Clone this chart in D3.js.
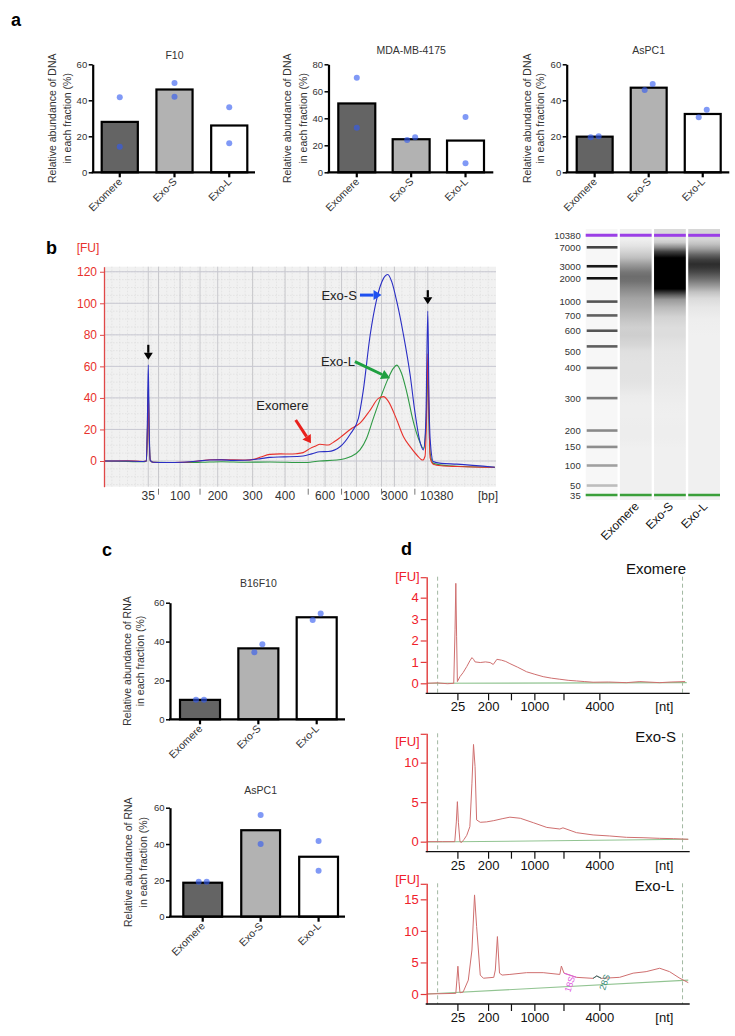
<!DOCTYPE html>
<html><head><meta charset="utf-8">
<script src="https://cdn.jsdelivr.net/npm/d3@7"></script>
<style>
body{margin:0;background:#fff}
svg{display:block}
text{font-family:"Liberation Sans",Arial,Helvetica,sans-serif}
</style>
</head><body>
<svg id="fig" width="735" height="1036"></svg>
<script>
// ---------------- DATA ----------------
const fractions = ["Exomere", "Exo-S", "Exo-L"];

// panel a: DNA abundance (%) — bar = mean, dots = replicates
const dnaF10Means = [28, 46, 26];
const dnaF10Reps = [[41.7, 14.2], [49.6, 42], [36.1, 16.1]];
const dnaMDAMeans = [51, 24.5, 23.5];
const dnaMDAReps = [[70, 33], [24, 26], [41, 6.7]];
const dnaAsPC1Means = [19.8, 47, 32.4];
const dnaAsPC1Reps = [[19.5, 20], [45.7, 49], [30.6, 34.8]];

// panel c: RNA abundance (%)
const rnaB16Means = [10, 36.5, 52.5];
const rnaB16Reps = [[10, 10], [34.5, 38.6], [51.1, 54.5]];
const rnaAsPC1Means = [18.7, 47.6, 33];
const rnaAsPC1Reps = [[19.3, 19.3], [56, 40], [41.7, 25.3]];

// panel b: DNA electropherogram, x = migration time (s), y = FU
const bpLadder = [35, 50, 100, 150, 200, 300, 400, 500, 600, 700, 1000, 2000, 3000, 7000, 10380];
const bpLadderTime = [41.3, 43.9, 49.4, 54.5, 59.0, 67.9, 76.2, 82.1, 86.4, 90.6, 94.4, 100.8, 104.1, 109.3, 112.6];
const bpAxisLabels = [35, 100, 200, 300, 400, 600, 1000, 3000, 10380];
const fuTicksB = [0, 20, 40, 60, 80, 100, 120];

const dnaExomere = [[30,0],[36,0.2],[40,-0.3],[40.8,0],[41.1,20],[41.3,44],[41.5,18],[41.8,0.5],[42.5,-0.8],[46,-1],[50,-0.8],[54,0],[57,0.8],[60,0.9],[63,0.7],[66,0.6],[68.5,1.2],[70,2.5],[72.3,4.2],[75,4.5],[77.4,4.4],[79,4.6],[80.8,5.3],[82.6,8],[84,9.5],[85.1,10.6],[87.2,10.1],[88.3,11.5],[89.4,13.3],[90.8,16],[92.8,20],[95.3,24],[97.9,32.3],[100,39.7],[101.3,40.8],[102.5,38],[104.7,26],[106.4,15.4],[108.1,9.1],[109.8,3.8],[111.3,0.6],[111.9,3],[112.3,30],[112.6,68],[112.9,30],[113.2,2],[114,-2],[116,-3],[120,-3.5],[129.7,-4]];
const dnaExoS = [[30,0],[36,0],[40,-0.3],[40.8,0],[41.1,30],[41.3,61],[41.5,25],[41.8,0.5],[42.5,-0.8],[46,-1],[50,-0.8],[54,0],[57,0.6],[60,0.7],[63,0.4],[66,0.5],[70,1.5],[72.3,2.3],[76,2.6],[80.8,3.2],[83,4.5],[85.1,5.9],[87.2,6],[90.2,9],[92.8,17],[94.9,27],[96.1,44],[97.9,79.9],[99.6,103],[101.3,115.8],[102.4,118.3],[103.4,113.7],[104.7,101],[106.4,79.9],[108.1,54.5],[109.3,31.3],[110.6,12.3],[111.5,7],[112.1,25],[112.6,95],[112.9,40],[113.2,14],[114,-0.4],[116,-1.5],[120,-2],[129.7,-4]];
const dnaExoL = [[30,0],[36,-0.3],[40,-0.5],[40.8,0],[41.1,22],[41.3,47],[41.5,20],[41.8,0.2],[42.5,-0.8],[50,-1],[55,-0.8],[60,-0.5],[66,-0.8],[72.3,-0.6],[80.8,-1],[85.1,0],[89.4,0.6],[92.8,2.7],[95.3,7],[97.0,14.4],[98.7,27],[100.8,41.8],[102.5,52.4],[103.8,58.7],[104.7,60.8],[105.9,55.6],[107.2,44],[108.9,25],[110.2,14.4],[111.5,8],[112.1,20],[112.6,54],[112.9,25],[113.2,5],[114,-1.5],[118,-3],[129.7,-4]];

// panel d: RNA electropherograms, x = migration time (s), y = FU
const ntLadder = [25, 200, 500, 1000, 2000, 4000];
const ntLadderTime = [23.0, 28.9, 33.3, 37.8, 43.4, 50.3];
const ntAxisLabels = [25, 200, 1000, 4000];
const rnaExomere = [[17,0],[19,0.02],[21,-0.02],[22.2,0],[22.45,2.5],[22.6,4.67],[22.75,2.2],[22.9,0.08],[23.4,0.31],[24.0,0.5],[24.7,0.78],[25.3,1.05],[25.7,1.2],[26.0,1.12],[26.3,1.0],[27.3,0.97],[28.3,1.0],[29.2,0.97],[29.8,0.88],[30.5,1.12],[31.4,1.08],[32.2,1.02],[33.0,0.92],[34.5,0.75],[36.2,0.54],[37.8,0.42],[39.4,0.31],[41,0.24],[42.6,0.19],[44.2,0.14],[45.8,0.11],[47.4,0.08],[49.0,0.05],[52,0.06],[55.4,0.03],[58,0.08],[61.8,0.03],[64,0.06],[66.7,0.08]];
const rnaExoS = [[17,0],[20,0],[22.4,0],[22.7,2.5],[22.9,5.06],[23.1,2.4],[23.4,0],[23.7,-0.1],[24.2,0.3],[24.7,0.8],[25.3,1.9],[25.7,7.4],[26.0,12.3],[26.3,9.5],[26.6,2.75],[27.3,2.45],[28.5,2.5],[29.9,2.66],[31.5,2.9],[33.0,3.1],[35.0,2.96],[37.5,2.4],[40.1,1.8],[42.6,1.6],[43.2,1.75],[45.8,1.14],[49.0,0.85],[52.2,0.72],[55.4,0.55],[58.6,0.5],[61.8,0.42],[64.5,0.38],[67.3,0.3]];
const rnaExoL = [[17,0],[22.6,0.1],[22.8,2.2],[23.0,4.4],[23.2,2.0],[23.4,0.2],[24.0,0.3],[25.0,2.2],[25.7,6.97],[26.2,15.7],[26.6,10.7],[27.3,3.0],[27.9,2.5],[29.9,2.64],[30.2,3.8],[30.6,9.1],[31.0,3.3],[31.5,3.0],[33.0,3.1],[36.2,3.38],[39.4,3.38],[42.6,3.1],[42.9,4.43],[43.4,3.3],[45.8,2.64],[49.0,2.48],[49.7,2.86],[50.6,2.48],[54.1,2.64],[56.7,3.3],[59.2,3.54],[61.8,4.08],[63.7,3.54],[65.7,2.48],[67.3,1.8]];
const rnaBaseExomere = [[17,0],[67,0.03]];
const rnaBaseExoS = [[17,-0.05],[67.3,0.3]];
const rnaBaseExoL = [[17,0],[67.3,2.2]];

// ---------------- DRAWING ----------------
const svg = d3.select("#fig");
const FONT = '"Liberation Sans",Arial,Helvetica,sans-serif';

function panelLetter(t, x, y) {
  svg.append("text").attr("x", x).attr("y", y).attr("font-size", 18).attr("font-weight", "bold").text(t);
}
panelLetter("a", 11, 26);
panelLetter("b", 46, 254);
panelLetter("c", 102, 556);
panelLetter("d", 401, 555);

// ---- bar charts ----
const barFill = ["#646464", "#b2b2b2", "#ffffff"];
function barChart(c) {
  const g = svg.append("g");
  const y = d3.scaleLinear().domain([0, c.yMax]).range([c.y0, c.yTop]);
  const x = d3.scaleBand().domain(fractions).range(c.barRange).paddingInner(c.pad);
  g.selectAll("rect.bar").data(c.means).join("rect").attr("class", "bar")
    .attr("x", (d, i) => x(fractions[i])).attr("y", d => y(d))
    .attr("width", x.bandwidth()).attr("height", d => y(0) - y(d))
    .attr("fill", (d, i) => barFill[i]).attr("stroke", "#000").attr("stroke-width", 2.2);
  // y axis
  const ya = g.append("g").attr("transform", `translate(${c.axisX},0)`)
    .call(d3.axisLeft(y).tickValues(c.ticks).tickSize(4).tickSizeOuter(0).tickPadding(1.5));
  ya.select(".domain").attr("stroke", "#000").attr("stroke-width", 2.2);
  ya.selectAll(".tick line").attr("stroke", "#000").attr("stroke-width", 1.5);
  ya.selectAll(".tick text").attr("font-family", FONT).attr("font-size", 9.5).attr("fill", "#333");
  // x axis
  g.append("line").attr("x1", c.axisX - 1).attr("x2", c.xEnd).attr("y1", y(0)).attr("y2", y(0))
    .attr("stroke", "#000").attr("stroke-width", 2.2);
  const xa = g.append("g").attr("transform", `translate(0,${y(0)})`)
    .call(d3.axisBottom(x).tickSize(5).tickSizeOuter(0).tickFormat(""));
  xa.select(".domain").remove();
  xa.selectAll(".tick line").attr("stroke", "#000").attr("stroke-width", 2.2);
  g.selectAll("text.xl").data(fractions).join("text").attr("class", "xl")
    .attr("transform", d => `translate(${x(d) + x.bandwidth() / 2 + 3},${y(0) + 10}) rotate(-45)`)
    .attr("text-anchor", "end").attr("font-size", 10.5).attr("fill", "#333").text(d => d);
  // dots (side by side when the two replicates nearly coincide)
  const pts = [];
  c.reps.forEach((r, i) => {
    const cx = x(fractions[i]) + x.bandwidth() / 2;
    const close = Math.abs(y(r[0]) - y(r[1])) < 9;
    const order = r[0] <= r[1] ? [0, 1] : [1, 0];
    r.forEach((v, j) => {
      const dx = close ? (order.indexOf(j) === 0 ? -4 : 4) : 0;
      pts.push({ x: cx + dx, v });
    });
  });
  g.selectAll("circle.dot").data(pts).join("circle").attr("class", "dot")
    .attr("cx", d => d.x).attr("cy", d => y(d.v)).attr("r", 3)
    .attr("fill", "rgb(50,90,240)").attr("fill-opacity", 0.62);
  // title
  g.append("text").attr("x", x(fractions[1]) + x.bandwidth() / 2).attr("y", c.titleY)
    .attr("text-anchor", "middle").attr("font-size", 10.5).attr("fill", "#333").text(c.title);
  // y label
  const cy = (c.y0 + c.yTop) / 2;
  [`Relative abundance of ${c.lab}`, "in each fraction (%)"].forEach((t, k) => {
    g.append("text").attr("transform", `translate(${c.axisX + c.labOff[k]},${cy}) rotate(-90)`)
      .attr("text-anchor", "middle").attr("font-size", 10.5).attr("fill", "#333").text(t);
  });
}

barChart({ title: "F10", means: dnaF10Means, reps: dnaF10Reps, yMax: 60, ticks: [0, 20, 40, 60], axisX: 92.7, xEnd: 255, y0: 172.3, yTop: 64.3, barRange: [101.7, 247.3], pad: 0.34, titleY: 59, lab: "DNA", labOff: [-37, -22] });
barChart({ title: "MDA-MB-4175", means: dnaMDAMeans, reps: dnaMDAReps, yMax: 80, ticks: [0, 20, 40, 60, 80], axisX: 328.5, xEnd: 493.3, y0: 172.3, yTop: 64.3, barRange: [338.3, 484], pad: 0.32, titleY: 54, lab: "DNA", labOff: [-38, -22] });
barChart({ title: "AsPC1", means: dnaAsPC1Means, reps: dnaAsPC1Reps, yMax: 60, ticks: [0, 20, 40, 60], axisX: 566.7, xEnd: 729.3, y0: 172.3, yTop: 64.3, barRange: [576.7, 720.7], pad: 0.335, titleY: 54, lab: "DNA", labOff: [-36, -23] });
barChart({ title: "B16F10", means: rnaB16Means, reps: rnaB16Reps, yMax: 60, ticks: [0, 20, 40, 60], axisX: 170, xEnd: 345, y0: 719.3, yTop: 602.7, barRange: [180, 336.7], pad: 0.314, titleY: 587, lab: "RNA", labOff: [-39.5, -26] });
barChart({ title: "AsPC1", means: rnaAsPC1Means, reps: rnaAsPC1Reps, yMax: 60, ticks: [0, 20, 40, 60], axisX: 170, xEnd: 345, y0: 916.7, yTop: 807.7, barRange: [183.3, 338], pad: 0.33, titleY: 794, lab: "RNA", labOff: [-38, -23] });

// ---- panel b electropherogram ----
const bL = 104, bR = 496, bT = 266.7, bB = 486.7;
const xB = d3.scaleLinear().domain([30, 130]).range([bL, bR]);
const yB = d3.scaleLinear().domain([-16.3, 123.2]).range([bB, bT]);
const gb = svg.append("g");
gb.append("rect").attr("x", bL).attr("y", bT).attr("width", bR - bL).attr("height", bB - bT).attr("fill", "#f1f1f1");
// minor grid
gb.selectAll("line.vm").data(d3.range(32, 130, 2)).join("line").attr("class", "vm")
  .attr("x1", d => xB(d)).attr("x2", d => xB(d)).attr("y1", bT).attr("y2", bB)
  .attr("stroke", "#dcdcdc").attr("stroke-width", 0.6).attr("stroke-dasharray", "1.5,1.5");
gb.selectAll("line.hm").data(d3.range(-15, 124, 5)).join("line").attr("class", "hm")
  .attr("x1", bL).attr("x2", bR).attr("y1", d => yB(d)).attr("y2", d => yB(d))
  .attr("stroke", "#dadada").attr("stroke-width", 0.6).attr("stroke-dasharray", "1.5,1.5");
// major grid
gb.selectAll("line.vM").data(bpLadderTime).join("line").attr("class", "vM")
  .attr("x1", d => xB(d)).attr("x2", d => xB(d)).attr("y1", bT).attr("y2", bB)
  .attr("stroke", "#c4c4c8").attr("stroke-width", 0.9);
gb.selectAll("line.hM").data(fuTicksB).join("line").attr("class", "hM")
  .attr("x1", bL).attr("x2", bR).attr("y1", d => yB(d)).attr("y2", d => yB(d))
  .attr("stroke", "#c8c8d2").attr("stroke-width", 1);
// curves
const lineB = d3.line().x(d => xB(d[0])).y(d => yB(d[1])).curve(d3.curveMonotoneX);
[[dnaExoL, "#2f9a45"], [dnaExomere, "#e8322c"], [dnaExoS, "#2a2ec4"]].forEach(([d, col]) => {
  gb.append("path").attr("d", lineB(d)).attr("fill", "none").attr("stroke", col).attr("stroke-width", 1.1);
});
// y axis
const yaB = gb.append("g").attr("transform", `translate(${bL},0)`)
  .call(d3.axisLeft(yB).tickValues(fuTicksB).tickSize(4).tickSizeOuter(0).tickPadding(3));
yaB.select(".domain").attr("stroke", "#e04848").attr("stroke-width", 1.3);
yaB.selectAll(".tick line").attr("stroke", "#e04848");
yaB.selectAll(".tick text").attr("font-family", FONT).attr("font-size", 12).attr("fill", "#e8322c");
gb.append("text").attr("x", 88).attr("y", 252).attr("text-anchor", "middle").attr("font-size", 12).attr("fill", "#e8322c").text("[FU]");
// x labels
gb.selectAll("text.bx").data(bpAxisLabels).join("text").attr("class", "bx")
  .attr("x", d => xB(bpLadderTime[bpLadder.indexOf(d)]) + (d === 10380 ? 9 : 0)).attr("y", 500)
  .attr("text-anchor", "middle").attr("font-size", 12).attr("fill", "#333").text(d => d);
gb.selectAll("line.bt").data(bpLadder.filter(d => !bpAxisLabels.includes(d))).join("line").attr("class", "bt")
  .attr("x1", d => xB(bpLadderTime[bpLadder.indexOf(d)])).attr("x2", d => xB(bpLadderTime[bpLadder.indexOf(d)]))
  .attr("y1", bB + 2).attr("y2", bB + 8).attr("stroke", "#555").attr("stroke-width", 0.8);
gb.append("text").attr("x", 488).attr("y", 500).attr("text-anchor", "middle").attr("font-size", 12).attr("fill", "#333").text("[bp]");

function arrow(g, x1, y1, x2, y2, col, w, hl, hw) {
  const a = Math.atan2(y2 - y1, x2 - x1);
  const bx = x2 - hl * Math.cos(a), by = y2 - hl * Math.sin(a);
  g.append("line").attr("x1", x1).attr("y1", y1).attr("x2", bx).attr("y2", by).attr("stroke", col).attr("stroke-width", w);
  const px = -Math.sin(a) * hw, py = Math.cos(a) * hw;
  g.append("path").attr("d", `M${x2},${y2}L${bx + px},${by + py}L${bx - px},${by - py}Z`).attr("fill", col);
}
// black arrows above the marker peaks
arrow(gb, xB(41.3), yB(61) - 20, xB(41.3), yB(61) - 5, "#000", 2.2, 7, 4.5);
arrow(gb, xB(112.6), yB(95) - 21, xB(112.6), yB(95) - 7, "#000", 2.2, 7, 4.5);
// sample arrows
arrow(gb, xB(95.3), yB(105.2), xB(100.8), yB(105.2), "#1e50f0", 3, 8, 5);
gb.append("text").attr("x", xB(94.5)).attr("y", yB(105.2) + 4.5).attr("text-anchor", "end").attr("font-size", 13).attr("fill", "#222").text("Exo-S");
arrow(gb, xB(94.0), yB(63), xB(103.0), yB(52.4), "#1fa040", 3, 9, 5);
gb.append("text").attr("x", xB(94.0)).attr("y", yB(63) + 4.5).attr("text-anchor", "end").attr("font-size", 13).attr("fill", "#222").text("Exo-L");
arrow(gb, xB(78.9), yB(26), xB(82.8), yB(11.2), "#e8201c", 3, 8, 5);
gb.append("text").attr("x", xB(75.5)).attr("y", yB(32.5)).attr("text-anchor", "middle").attr("font-size", 13).attr("fill", "#222").text("Exomere");

// ---- gel image ----
const gelY = d3.scaleLinear().domain([41.3, 112.6]).range([495, 235.3]);
const gelLanes = ["ladder", ...fractions];
const gelX = d3.scaleBand().domain(gelLanes).range([585.7, 720]).paddingInner(0.07);
const gg = svg.append("g");
const defs = svg.append("defs");
const laneTop = 229, laneBot = 500;
const grayOf = v => { const g = Math.round(240 - 240 * Math.min(1, Math.max(0, v) / 75)); return `rgb(${g},${g},${g})`; };
[dnaExomere, dnaExoS, dnaExoL].forEach((data, i) => {
  const grad = defs.append("linearGradient").attr("id", "lane" + i).attr("x1", 0).attr("y1", 0).attr("x2", 0).attr("y2", 1);
  const pts = data.filter(d => d[0] > 42 && d[0] < 111.6).sort((a, b) => b[0] - a[0]);
  grad.append("stop").attr("offset", 0).attr("stop-color", grayOf(pts[0][1]));
  pts.forEach(d => grad.append("stop").attr("offset", (gelY(d[0]) - laneTop) / (laneBot - laneTop)).attr("stop-color", grayOf(d[1])));
  grad.append("stop").attr("offset", 1).attr("stop-color", grayOf(0));
});
gg.append("rect").attr("x", gelX("ladder")).attr("y", laneTop).attr("width", gelX.bandwidth()).attr("height", laneBot - laneTop).attr("fill", "#f7f7f7");
fractions.forEach((f, i) => {
  gg.append("rect").attr("x", gelX(f)).attr("y", laneTop).attr("width", gelX.bandwidth()).attr("height", laneBot - laneTop).attr("fill", `url(#lane${i})`);
});
const ladderGray = { 50: "#bdbdbd", 100: "#a0a0a0", 150: "#8e8e8e", 200: "#8a8a8a", 300: "#7a7a7a", 400: "#6a6a6a", 500: "#5e5e5e", 600: "#555", 700: "#606060", 1000: "#555", 2000: "#111", 3000: "#1a1a1a", 7000: "#444" };
gg.selectAll("line.lb").data(bpLadder.filter(d => d !== 35 && d !== 10380)).join("line").attr("class", "lb")
  .attr("x1", gelX("ladder") + 1).attr("x2", gelX("ladder") + gelX.bandwidth())
  .attr("y1", d => gelY(bpLadderTime[bpLadder.indexOf(d)])).attr("y2", d => gelY(bpLadderTime[bpLadder.indexOf(d)]))
  .attr("stroke", d => ladderGray[d]).attr("stroke-width", 2.6);
gelLanes.forEach(l => {
  gg.append("line").attr("x1", gelX(l)).attr("x2", gelX(l) + gelX.bandwidth()).attr("y1", gelY(112.6)).attr("y2", gelY(112.6)).attr("stroke", "#9b3fe6").attr("stroke-width", 3);
  gg.append("line").attr("x1", gelX(l)).attr("x2", gelX(l) + gelX.bandwidth()).attr("y1", gelY(41.3)).attr("y2", gelY(41.3)).attr("stroke", "#3a9f3a").attr("stroke-width", 2.5);
});
gg.selectAll("text.ll").data(bpLadder).join("text").attr("class", "ll")
  .attr("x", 580.7).attr("y", d => gelY(bpLadderTime[bpLadder.indexOf(d)]) + 3.5 + (d === 500 ? 5 : 0))
  .attr("text-anchor", "end").attr("font-size", 9.5).attr("fill", "#333").text(d => d);
gg.selectAll("text.gl").data(fractions).join("text").attr("class", "gl")
  .attr("transform", d => `translate(${gelX(d) + gelX.bandwidth() / 2 + 4},${laneBot + 7}) rotate(-45)`)
  .attr("text-anchor", "end").attr("font-size", 12).attr("fill", "#111").text(d => d);

// ---- panel d ----
const xD = d3.scaleLinear().domain([17, 67]).range([426.7, 686.7]);
function rnaPanel(p) {
  const g = svg.append("g");
  const y = d3.scaleLinear().domain(p.dom).range([p.bot, p.top]);
  // dashed boundaries
  [19.1, 66.2].forEach(t => g.append("line").attr("x1", xD(t)).attr("x2", xD(t)).attr("y1", p.top).attr("y2", p.bot)
    .attr("stroke", "#a2b8a2").attr("stroke-width", 1).attr("stroke-dasharray", "4,3"));
  const line = d3.line().x(d => xD(d[0])).y(d => y(d[1]));
  g.append("path").attr("d", line(p.base)).attr("fill", "none").attr("stroke", "#92c492").attr("stroke-width", 1.1);
  g.append("path").attr("d", line(p.curve)).attr("fill", "none").attr("stroke", "#cf6f6f").attr("stroke-width", 1);
  if (p.ann) {
    g.append("path").attr("d", line(p.curve.filter(d => d[0] >= 43.4 && d[0] <= 45.8))).attr("fill", "none").attr("stroke", "#e060e0").attr("stroke-width", 1);
    g.append("path").attr("d", line(p.curve.filter(d => d[0] >= 49.0 && d[0] <= 50.6))).attr("fill", "none").attr("stroke", "#2f6f6a").attr("stroke-width", 1);
    g.append("text").attr("transform", `translate(${xD(44.6)},${y(0.2)}) rotate(-72)`).attr("font-size", 9).attr("fill", "#e060e0").text("18S");
    g.append("text").attr("transform", `translate(${xD(51.3)},${y(0.5)}) rotate(-72)`).attr("font-size", 9).attr("fill", "#3a8a7a").text("28S");
  }
  // y axis
  const ya = g.append("g").attr("transform", `translate(${xD.range()[0]},0)`)
    .call(d3.axisLeft(y).tickValues(p.ticks).tickFormat(d3.format("d")).tickSize(6).tickSizeOuter(0).tickPadding(2));
  ya.select(".domain").attr("stroke", "#e23a3a").attr("stroke-width", 1.4);
  ya.selectAll(".tick line").attr("stroke", "#e23a3a").attr("stroke-width", 1.2);
  ya.selectAll(".tick text").attr("font-family", FONT).attr("font-size", 13).attr("fill", "#f0202a");
  g.append("line").attr("x1", xD.range()[0] - 6).attr("x2", xD.range()[0]).attr("y1", p.top + 1).attr("y2", p.top + 1).attr("stroke", "#e23a3a").attr("stroke-width", 1.2);
  g.append("text").attr("x", xD.range()[0] - 7).attr("y", p.top + p.fuDy).attr("text-anchor", "end").attr("font-size", 13).attr("fill", "#f0202a").text("[FU]");
  // x axis
  g.append("line").attr("x1", xD.range()[0] - 1).attr("x2", xD.range()[1] + 3).attr("y1", p.bot).attr("y2", p.bot).attr("stroke", "#111").attr("stroke-width", 1.3);
  g.selectAll("line.xt").data(ntLadderTime).join("line").attr("class", "xt")
    .attr("x1", d => xD(d)).attr("x2", d => xD(d)).attr("y1", p.bot).attr("y2", p.bot + 7).attr("stroke", "#111").attr("stroke-width", 1.2);
  g.selectAll("text.xl").data(ntAxisLabels).join("text").attr("class", "xl")
    .attr("x", d => xD(ntLadderTime[ntLadder.indexOf(d)])).attr("y", p.bot + 18)
    .attr("text-anchor", "middle").attr("font-size", 13).attr("fill", "#111").text(d => d);
  g.append("text").attr("x", xD(62.7)).attr("y", p.bot + 18).attr("text-anchor", "middle").attr("font-size", 13).attr("fill", "#111").text("[nt]");
  g.append("text").attr("x", p.nameX).attr("y", p.nameY).attr("text-anchor", "end").attr("font-size", 15).attr("fill", "#111").text(p.name);
}
rnaPanel({ name: "Exomere", curve: rnaExomere, base: rnaBaseExomere, dom: [-0.467, 4.98], top: 576.7, bot: 693.3, ticks: [0, 1, 2, 3, 4], fuDy: 4, nameX: 686, nameY: 574 });
rnaPanel({ name: "Exo-S", curve: rnaExoS, base: rnaBaseExoS, dom: [-1.27, 13.71], top: 733.3, bot: 851.7, ticks: [0, 5, 10], fuDy: 13, nameX: 676, nameY: 742 });
rnaPanel({ name: "Exo-L", curve: rnaExoL, base: rnaBaseExoL, dom: [-1.585, 17.54], top: 883.3, bot: 1004, ticks: [0, 5, 10, 15], fuDy: 1, nameX: 674, nameY: 891, ann: true });
</script>
</body></html>
